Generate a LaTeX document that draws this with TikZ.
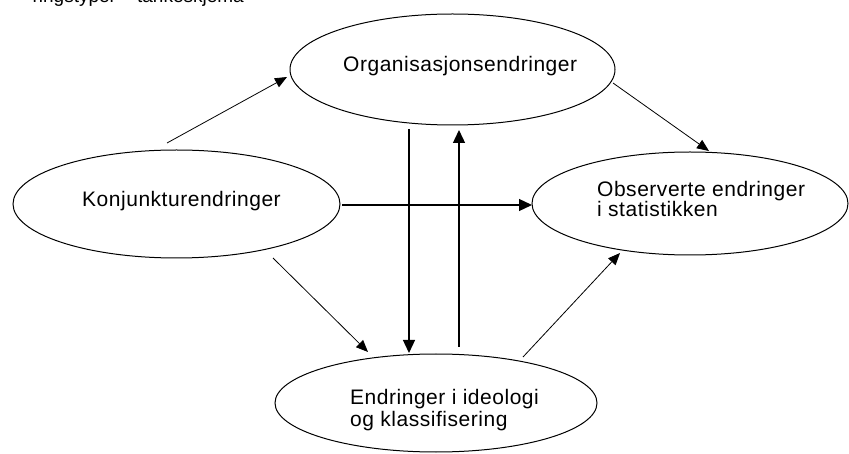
\documentclass[tikz,border=0pt]{standalone}
\usepackage{fontspec}
\setmainfont{Liberation Sans}
\newfontfamily\lblfont[LetterSpace=2.5]{Liberation Sans}
\usetikzlibrary{arrows.meta,shapes.geometric,calc}
\begin{document}
\begin{tikzpicture}[x=1pt,y=-1pt,
  ell/.style={draw,ellipse,line width=1pt,inner sep=0pt},
  lbl/.style={font=\lblfont\fontsize{21}{21}\selectfont,inner sep=0pt,anchor=base west},
  arr/.style={-{Triangle[length=12pt,width=10pt]},line width=0.8pt},
  varr/.style={-{Triangle[length=13pt,width=12pt]},line width=1.3pt}]
\useasboundingbox (0,0) rectangle (849,454);
\clip (0,0) rectangle (849,454);
\fill[white] (0,0) rectangle (849,454);
% title fragment (cut off at top, as in the reference)
\node[anchor=base east,inner sep=0pt,font=\fontsize{19}{19}\selectfont] (T) at (244,3) {ringstyper – tankeskjema};
% ellipses
\node[ell,minimum width=325pt,minimum height=111pt] (O) at (452.5,69.5) {};
\node[ell,minimum width=327pt,minimum height=108pt] (K) at (176.5,204) {};
\node[ell,minimum width=316pt,minimum height=103pt] (B) at (690,203.5) {};
\node[ell,minimum width=322pt,minimum height=98pt] (E) at (436,403) {};
% labels
\node[lbl] (tO) at (343,72) {Organisasjonsendringer};
\node[lbl] (tK) at (82,207) {Konjunkturendringer};
\node[lbl] (tB1) at (597,197) {Observerte endringer};
\node[lbl] (tB2) at (597,217) {i statistikken};
\node[lbl] (tE1) at (350,404) {Endringer i ideologi};
\node[lbl] (tE2) at (350,426) {og klassifisering};
% connectors
\draw[arr] ($(K.center)+(-9.5,-61)$) -- ($(O.center)+(-165.5,7.5)$);
\draw[arr] ($(O.center)+(160.5,13.5)$) -- ($(B.center)+(19,-52.5)$);
\draw[varr] ($(K.center)+(165.5,1)$) -- ($(B.center)+(-158,1.5)$);
\draw[arr] ($(K.center)+(96.5,54)$) -- ($(E.center)+(-68,-51)$);
\draw[varr] ($(O.center)+(-43.5,59.5)$) -- ($(E.center)+(-27,-50)$);
\draw[varr] ($(E.center)+(23,-56)$) -- ($(O.center)+(6.5,60.5)$);
\draw[arr] ($(E.center)+(87,-46)$) -- ($(B.center)+(-70,49.5)$);
\end{tikzpicture}
\end{document}
